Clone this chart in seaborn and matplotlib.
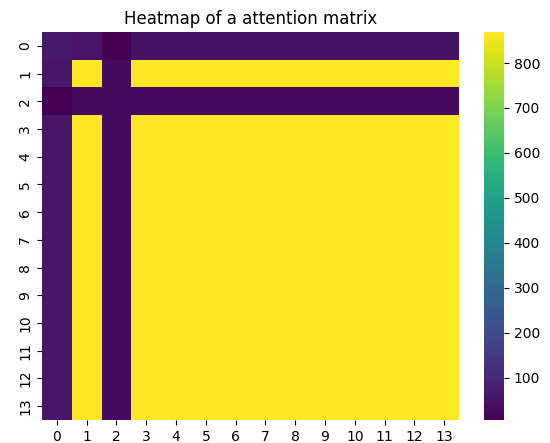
import matplotlib
matplotlib.use("Agg")
import matplotlib.pyplot as plt
import numpy as np
import seaborn as sns

# attention scores (14 x 14)
hi = 869
row_0 = [62, 48, 8, 45, 45, 45, 45, 45, 45, 45, 45, 45, 45, 45]
row_2 = [6, 28, 24, 25, 25, 25, 25, 25, 25, 25, 25, 25, 25, 25]
col_0 = [55] * 14
col_2 = [28] * 14

attn = np.full((14, 14), hi, dtype=float)
attn[:, 0] = col_0
attn[:, 2] = col_2
attn[0, :] = row_0
attn[2, :] = row_2

fig = plt.figure(figsize=(5.5, 4.43), dpi=100)
ax = fig.add_axes([42 / 550, 1 - 420 / 443, (459 - 42) / 550, (420 - 32) / 443])
cax = fig.add_axes([484 / 550, 1 - 420 / 443, 20 / 550, (420 - 32) / 443])
sns.heatmap(attn, cmap="viridis", vmin=6, vmax=869, ax=ax, cbar_ax=cax)
cax.set_yticks([100, 200, 300, 400, 500, 600, 700, 800])
ax.set_title("Heatmap of a attention matrix")
fig.savefig("out.png", dpi=100)
